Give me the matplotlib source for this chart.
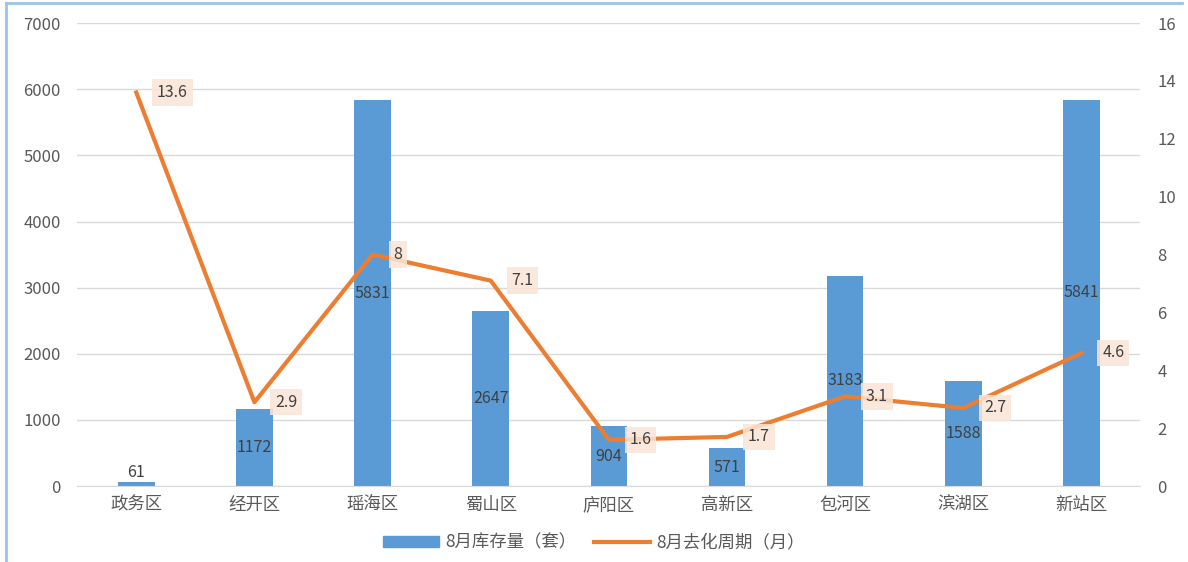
import matplotlib.pyplot as plt
from matplotlib.lines import Line2D

plt.rcParams['font.family'] = ['Noto Sans CJK SC', 'DejaVu Sans']

# data
districts = ["政务区", "经开区", "瑶海区", "蜀山区", "庐阳区", "高新区", "包河区", "滨湖区", "新站区"]
stock = [61, 1172, 5831, 2647, 904, 571, 3183, 1588, 5841]
cycle = [13.6, 2.9, 8, 7.1, 1.6, 1.7, 3.1, 2.7, 4.6]
bar_name = "8月库存量（套）"
line_name = "8月去化周期（月）"

blue = "#5B9BD5"
orange = "#ED7D31"
tick_col = "#595959"
lab_col = "#404040"

fig = plt.figure(figsize=(11.88, 5.62), dpi=100)
ax = fig.add_axes([0.065, 0.135, 0.895, 0.824])
ax2 = ax.twinx()

x = list(range(len(districts)))
ax.bar(x, stock, width=0.31, color=blue, zorder=2)
ax.set_ylim(0, 7000)
ax.set_yticks(range(0, 7001, 1000))
ax.set_xlim(-0.5, len(districts) - 0.5)
ax.set_xticks(x)
ax.set_xticklabels(districts)
ax.yaxis.grid(True, color="#D9D9D9", lw=1)
ax.set_axisbelow(True)

# bar labels: centred in the bar, small bars get theirs above
for xi, v in zip(x, stock):
    y = v + 150 if v < 300 else v / 2
    ax.text(xi, y, str(v), ha="center", va="center", fontsize=11.5, color=lab_col, zorder=5)

ax2.plot(x, cycle, color=orange, lw=3, solid_joinstyle="round", zorder=3)
ax2.set_ylim(0, 16)
ax2.set_yticks(range(0, 17, 2))
for xi, v in zip(x, cycle):
    ax2.annotate(f"{v:g}", (xi, v), xytext=(15, 0), textcoords="offset points",
                 ha="left", va="center", fontsize=11.5, color=lab_col,
                 bbox=dict(boxstyle="square,pad=0.3", fc="#FBE5D6", ec="none", alpha=0.85))

for a in (ax, ax2):
    for s in a.spines.values():
        s.set_visible(False)
    a.tick_params(length=0, labelsize=12, labelcolor=tick_col)
ax.tick_params(axis="y", pad=12)
ax2.tick_params(axis="y", pad=12)
ax.tick_params(axis="x", labelsize=12.5, pad=7)
ax.spines["bottom"].set_visible(True)
ax.spines["bottom"].set_color("#D9D9D9")

handles = [plt.Rectangle((0, 0), 1, 1, color=blue), Line2D([0], [0], color=orange, lw=3)]
fig.legend(handles, [bar_name, line_name], loc="center", bbox_to_anchor=(0.5, 0.035),
           ncol=2, frameon=False, fontsize=12.5, labelcolor=tick_col,
           handlelength=3.2, handleheight=0.6, columnspacing=1.0, handletextpad=0.4)

# light blue frame around the chart
fig.add_artist(Line2D([0.005, 0.005], [0, 0.995], color="#9DC3E6", lw=2))
fig.add_artist(Line2D([0.005, 0.995], [0.995, 0.995], color="#9DC3E6", lw=2))

fig.savefig("out.png", dpi=100)
